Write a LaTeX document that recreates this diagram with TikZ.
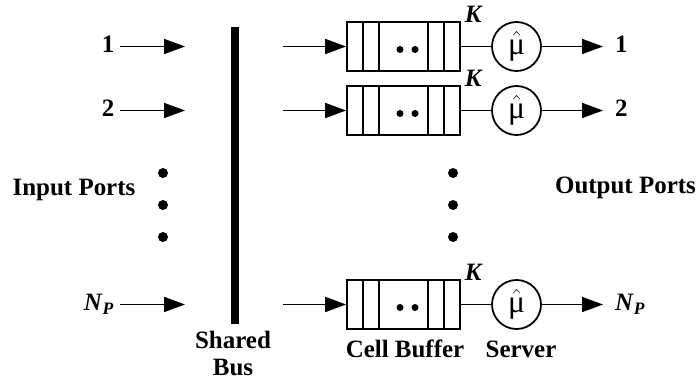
\documentclass[tikz,border=0pt]{standalone}
\usepackage{fontspec}
\setmainfont{Liberation Serif}
\usetikzlibrary{arrows.meta,positioning}

\tikzset{
  lbl/.style={font=\fontsize{14.2}{15.5}\selectfont\bfseries, inner sep=3pt, text height=1.45ex, text depth=0pt},
  arr/.style={line width=1pt, -{Triangle[length=0.42cm,width=0.3cm]}},
  wire/.style={line width=1pt},
  buffer/.style={draw, line width=1pt, minimum width=2.26cm, minimum height=0.98cm, inner sep=0pt,
    path picture={
      \draw ([xshift=0.32cm]path picture bounding box.north west) -- ([xshift=0.32cm]path picture bounding box.south west);
      \draw ([xshift=0.64cm]path picture bounding box.north west) -- ([xshift=0.64cm]path picture bounding box.south west);
      \draw ([xshift=-0.64cm]path picture bounding box.north east) -- ([xshift=-0.64cm]path picture bounding box.south east);
      \draw ([xshift=-0.32cm]path picture bounding box.north east) -- ([xshift=-0.32cm]path picture bounding box.south east);
      \fill ([xshift=-0.07cm,yshift=-0.06cm]path picture bounding box.center) circle (0.07cm);
      \fill ([xshift=0.23cm,yshift=-0.06cm]path picture bounding box.center) circle (0.07cm);
    }},
  server/.style={draw, circle, line width=1pt, minimum size=0.98cm, inner sep=0pt, font=\fontsize{18}{20}\selectfont},
  dot/.style={circle, fill, inner sep=0pt, minimum size=0.2cm},
}

\begin{document}
\begin{tikzpicture}
  \useasboundingbox (0,0) rectangle (13.92,7.62);

  % input side
  \node[lbl, anchor=east] (in1) at (2.40,6.69) {1};
  \node[lbl, anchor=east] (in2) at (2.40,5.41) {2};
  \node[lbl, anchor=east] (inN) at (2.40,1.53) {\textit{N}\textsubscript{\textit{P}}};
  \coordinate (b1) at (3.70,6.69);
  \coordinate (b2) at (3.70,5.41);
  \coordinate (bN) at (3.70,1.53);
  \draw[arr] (in1) -- (b1);
  \draw[arr] (in2) -- (b2);
  \draw[arr] (inN) -- (bN);

  \node[dot] (ld1) at (3.26,4.16) {};
  \node[dot] (ld2) at (3.26,3.52) {};
  \node[dot] (ld3) at (3.26,2.88) {};
  \node[lbl] (inports) at (1.48,3.82) {Input Ports};

  % bus
  \node[fill, minimum width=0.16cm, minimum height=5.94cm, inner sep=0pt] (bus) at (4.70,4.11) {};
  \node[lbl, align=center, text height=, text depth=, inner sep=0pt,
        font=\fontsize{14.2}{15}\selectfont\bfseries] (buslbl) at (4.66,0.55) {Shared\\Bus};

  % buffers and servers
  \node[buffer] (q1) at (8.07,6.69) {};
  \node[buffer] (q2) at (8.07,5.41) {};
  \node[buffer] (q3) at (8.07,1.53) {};
  \coordinate (c1) at (5.66,6.69);
  \coordinate (c2) at (5.66,5.41);
  \coordinate (c3) at (5.66,1.53);
  \draw[arr] (c1) -- (q1);
  \draw[arr] (c2) -- (q2);
  \draw[arr] (c3) -- (q3);

  \node[lbl, anchor=west, inner sep=1pt] (k1) at ([xshift=0.04cm,yshift=0.08cm]q1.north east) {\textit{K}};
  \node[lbl, anchor=west, inner sep=1pt] (k2) at ([xshift=0.04cm,yshift=0.08cm]q2.north east) {\textit{K}};
  \node[lbl, anchor=west, inner sep=1pt] (k3) at ([xshift=0.04cm,yshift=0.08cm]q3.north east) {\textit{K}};

  \node[server] (s1) at (10.33,6.69) {$\hat{\mbox{μ}}$};
  \node[server] (s2) at (10.33,5.41) {$\hat{\mbox{μ}}$};
  \node[server] (s3) at (10.33,1.53) {$\hat{\mbox{μ}}$};
  \draw[wire] (q1) -- (s1);
  \draw[wire] (q2) -- (s2);
  \draw[wire] (q3) -- (s3);

  \node[dot] (rd1) at (9.06,4.16) {};
  \node[dot] (rd2) at (9.06,3.52) {};
  \node[dot] (rd3) at (9.06,2.88) {};

  \node[lbl] (cellbuf) at (8.10,0.58) {Cell Buffer};
  \node[lbl] (srv) at (10.42,0.58) {Server};

  % output side
  \node[lbl, anchor=west] (out1) at (12.19,6.69) {1};
  \node[lbl, anchor=west] (out2) at (12.19,5.41) {2};
  \node[lbl, anchor=west] (outN) at (12.19,1.53) {\textit{N}\textsubscript{\textit{P}}};
  \draw[arr, shorten >=0.13cm] (s1) -- (out1);
  \draw[arr, shorten >=0.13cm] (s2) -- (out2);
  \draw[arr, shorten >=0.13cm] (s3) -- (outN);
  \node[lbl] (outports) at (12.51,3.86) {Output Ports};
\end{tikzpicture}
\end{document}
